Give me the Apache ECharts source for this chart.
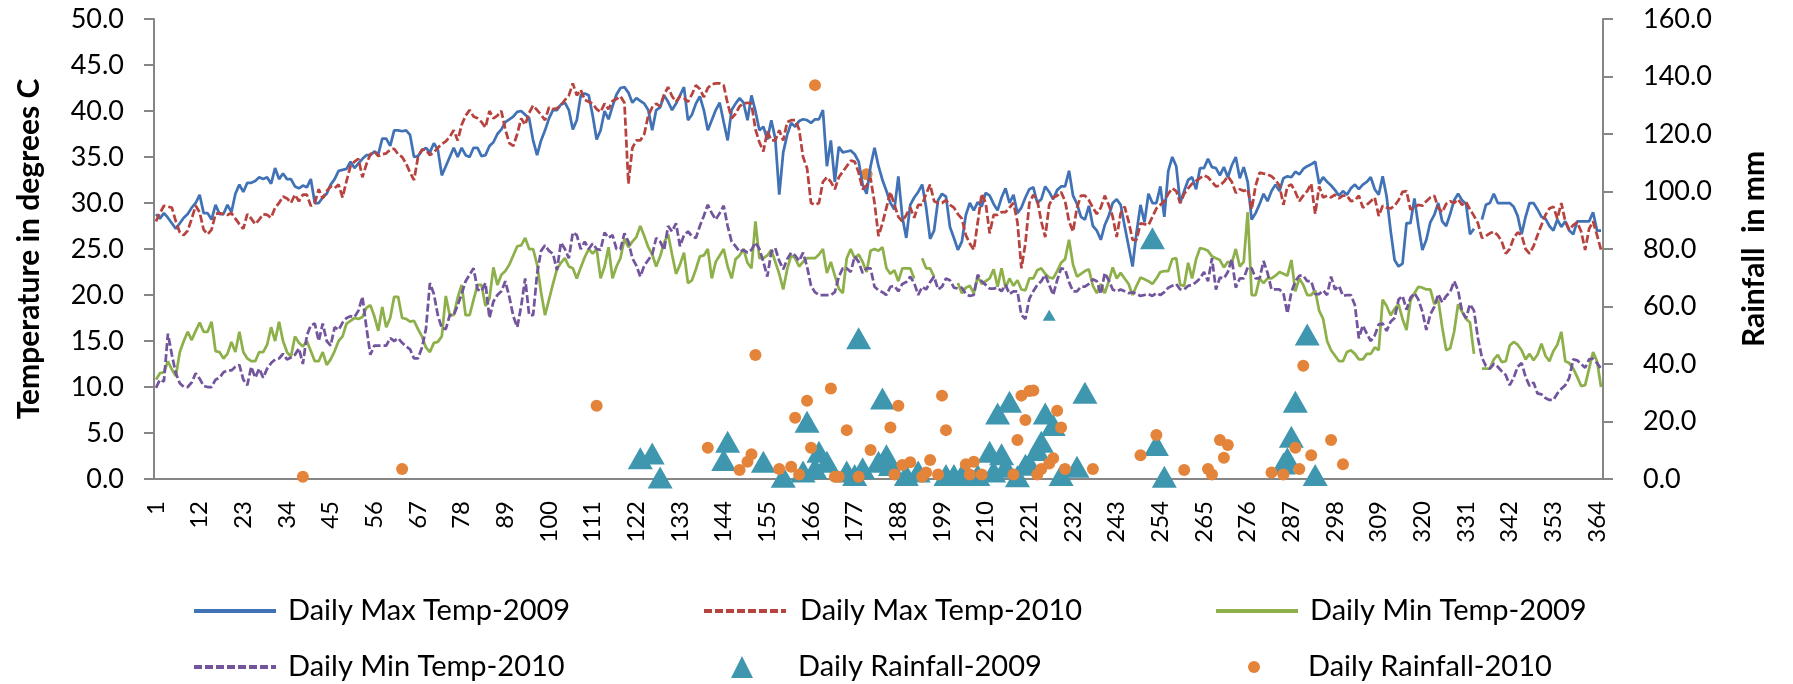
<!DOCTYPE html>
<html>
<head>
<meta charset="utf-8">
<title>Daily temperature and rainfall 2009-2010</title>
<script src="https://cdn.jsdelivr.net/npm/echarts@6/dist/echarts.min.js"></script>
<style>
  html, body { margin: 0; padding: 0; background: #fff; }
  #chart { width: 1793px; height: 684px; }
</style>
</head>
<body>
<div id="chart"></div>
<script>
// day numbers 1..365 (category axis)
const dayLabels = Array.from({ length: 365 }, (_, i) => String(i + 1))

// daily max temperature 2009 (deg C)
const maxTemp2009 = [
  28.8, 28.3, 28.9, 28.4, 27.8, 27.2, 27.8, 28.4, 28.8, 29.5,
  30.0, 30.9, 28.9, 28.9, 28.2, 29.8, 28.8, 28.8, 29.8, 29.0,
  31.0, 32.0, 31.2, 32.2, 32.2, 32.4, 32.8, 32.6, 32.8, 32.1,
  33.8, 32.6, 33.2, 32.6, 32.6, 31.8, 31.6, 31.9, 31.7, 32.6,
  30.0, 30.0, 30.6, 31.0, 32.0, 32.6, 33.5, 33.6, 33.7, 34.5,
  33.8, 34.3, 34.8, 35.2, 35.2, 35.6, 35.3, 37.0, 37.0, 36.2,
  37.9, 37.9, 37.8, 37.9, 37.4, 35.0, 35.1, 35.7, 36.0, 35.5,
  36.5, 35.8, 33.0, 34.0, 35.0, 36.0, 35.0, 36.0, 35.2, 35.0,
  36.0, 36.0, 35.1, 35.2, 36.2, 36.6, 37.5, 38.0, 38.8, 39.1,
  39.4, 39.9, 40.0, 39.6, 39.2, 36.8, 35.2, 36.8, 37.9, 39.2,
  40.1, 40.1, 40.7, 40.9, 40.1, 38.0, 39.0, 41.7, 41.9, 41.7,
  39.5, 36.9, 37.9, 40.0, 39.1, 40.5, 41.8, 42.5, 42.6, 42.0,
  40.9, 41.4, 41.1, 40.8, 40.1, 37.9, 40.1, 40.4, 41.7, 41.0,
  40.1, 40.8, 41.7, 42.6, 39.0, 39.6, 40.8, 41.6, 40.1, 37.9,
  39.0, 40.1, 40.9, 38.8, 36.8, 40.1, 40.8, 41.4, 40.9, 39.0,
  41.7, 40.0, 37.9, 38.3, 36.9, 39.0, 37.0, 30.9, 35.5, 37.4,
  38.7, 38.3, 38.9, 39.1, 39.0, 38.7, 39.1, 39.1, 40.1, 34.0,
  36.8, 32.3, 36.1, 35.5, 35.6, 35.7, 35.3, 34.5, 32.0, 31.0,
  34.0, 36.0, 34.0, 32.5, 31.3, 30.0, 29.3, 32.9, 28.5, 26.2,
  29.8, 30.6, 31.2, 32.0, 29.5, 26.1, 27.0, 30.3, 31.0, 30.7,
  27.4, 26.2, 24.9, 25.8, 28.7, 30.0, 29.2, 30.1, 29.6, 31.1,
  30.8, 29.9, 29.2, 30.6, 31.6, 30.0, 30.9, 28.9, 29.5, 30.6,
  31.5, 31.7, 30.0, 30.4, 31.8, 31.2, 30.4, 31.4, 31.8, 31.8,
  33.5, 30.8, 29.9, 28.5, 28.2, 29.7, 27.5, 27.0, 26.0, 27.6,
  28.6, 30.0, 30.4, 29.8, 27.5, 25.3, 23.1, 26.8, 29.8, 27.9,
  31.0, 30.0, 30.0, 31.8, 28.5, 33.5, 35.0, 34.0, 30.0, 31.3,
  32.5, 32.8, 31.5, 33.8, 33.8, 34.8, 33.9, 33.8, 33.0, 33.9,
  32.8, 34.1, 35.0, 32.7, 33.9, 32.3, 28.2, 28.9, 29.9, 31.0,
  30.2, 31.3, 32.0, 31.3, 32.7, 32.9, 32.8, 33.4, 33.1, 33.7,
  34.0, 34.2, 34.5, 32.1, 32.8, 32.3, 31.9, 31.4, 30.8, 31.3,
  30.9, 31.6, 32.0, 31.5, 32.0, 32.3, 32.8, 31.5, 30.9, 32.9,
  30.7, 27.0, 23.8, 23.1, 23.4, 27.8, 27.8, 30.5, 27.5, 24.9,
  26.0, 27.9, 28.7, 30.0, 28.0, 27.5, 28.8, 30.3, 31.0, 30.3,
  29.9, 26.6, 27.2, null, 28.2, 29.8, 30.0, 31.0, 30.0, 30.0,
  30.0, 30.0, 29.6, 28.6, 26.6, 28.5, 30.0, 30.0, 29.3, 28.5,
  28.3, 27.5, 27.0, 28.2, 27.4, 28.0, 27.0, 26.6, 28.0, 28.0,
  28.0, 28.0, 29.0, 27.0, 27.0
]

// daily max temperature 2010 (deg C)
const maxTemp2010 = [
  28.0, 28.9, 29.7, 29.6, 29.5, 28.0, 26.8, 26.5, 27.0, 28.3,
  29.7, 29.0, 27.1, 26.6, 27.1, 28.8, 28.9, 28.8, 28.7, 28.9,
  28.3, 27.7, 27.2, 28.8, 28.3, 27.7, 28.2, 28.8, 28.7, 28.4,
  29.5, 30.0, 30.7, 30.5, 30.0, 30.9, 30.2, 30.9, 30.9, 29.7,
  30.0, 31.5, 30.5, 31.3, 31.8, 31.6, 32.0, 30.6, 32.4, 34.0,
  34.5, 34.8, 32.8, 34.2, 35.3, 35.6, 35.1, 35.3, 35.4, 35.8,
  35.9, 35.3, 35.0, 34.3, 33.3, 32.5, 35.0, 35.8, 35.8, 35.2,
  35.5, 36.0, 36.4, 36.7, 37.2, 37.9, 36.8, 38.5, 39.5, 40.1,
  39.4, 39.2, 38.8, 38.2, 40.0, 39.2, 39.5, 40.0, 38.0, 36.5,
  36.2, 37.5, 39.2, 38.5, 39.8, 40.6, 40.1, 39.6, 39.0, 40.4,
  40.2, 40.3, 40.6, 41.2, 41.7, 43.0, 41.7, 42.3, 41.2, 41.0,
  40.8, 40.2, 39.9, 40.8, 40.2, 41.1, 41.3, 41.6, 40.9, 32.1,
  36.0, 36.8, 36.8, 37.5, 39.5, 40.4, 40.8, 40.5, 41.8, 42.6,
  41.6, 41.0, 41.6, 41.4, 41.0, 41.8, 42.8, 42.4, 41.5, 42.5,
  42.9, 43.0, 43.0, 42.8, 40.8, 39.2, 39.7, 40.5, 40.8, 40.9,
  40.8, 38.0, 36.6, 35.6, 37.8, 36.8, 36.8, 37.9, 36.8, 38.8,
  39.0, 39.0, 38.0, 35.0, 33.8, 30.0, 29.8, 30.0, 32.3, 32.8,
  32.3, 31.5, 32.8, 33.4, 34.0, 34.6, 34.5, 33.3, 31.5, 31.9,
  32.7, 30.0, 26.4, 27.8, 29.5, 31.2, 29.8, 28.5, 28.0, 28.7,
  29.5, 28.4, 29.8, 29.8, 31.0, 32.0, 30.2, 30.0, 30.0, 30.3,
  29.8, 29.5, 28.8, 28.3, 26.5, 25.6, 24.9, 27.9, 31.0, 30.0,
  26.7, 28.7, 28.7, 29.0, 29.0, 29.5, 30.0, 27.9, 22.9, 25.6,
  30.0, 30.9, 30.3, 28.0, 26.3, 29.8, 30.6, 30.8, 31.2, 30.2,
  28.0, 26.9, 29.5, 30.8, 30.8, 30.3, 29.5, 28.8, 29.5, 30.8,
  29.8, 28.5, 26.3, 28.9, 29.6, 28.0, 26.0, 26.0, 27.8, 27.7,
  27.6, 28.5, 29.4, 29.8, 30.2, 31.0, 31.6, 31.3, 30.0, 31.0,
  31.6, 32.1, 32.4, 32.7, 33.0, 32.8, 32.3, 31.8, 31.9, 32.3,
  32.9, 32.3, 31.1, 31.5, 31.3, 31.5, 29.3, 31.9, 33.3, 33.2,
  33.1, 32.9, 32.5, 31.9, 29.8, 31.8, 32.0, 31.2, 30.2, 30.8,
  31.3, 32.1, 28.8, 31.8, 30.6, 30.8, 30.6, 30.9, 30.5, 30.8,
  30.8, 30.2, 30.3, 30.8, 29.5, 29.8, 30.2, 30.6, 28.6, 29.7,
  29.5, 29.4, 29.7, 30.3, 31.2, 31.3, 29.3, 29.5, 29.8, 29.7,
  30.2, 30.6, 30.8, 29.5, 29.0, 29.9, 30.2, 30.0, 30.4, 29.8,
  30.1, 29.3, 28.6, 27.8, 26.2, 26.4, 26.7, 26.9, 26.5, 25.8,
  24.5, 25.0, 26.2, 26.8, 26.5, 25.0, 24.5, 25.3, 26.5, 27.6,
  28.7, 29.4, 29.6, 28.3, 30.0, 28.0, 27.1, 27.6, 27.9, 26.9,
  24.9, 27.2, 28.0, 26.5, 24.9
]

// daily min temperature 2009 (deg C), null = no reading
const minTemp2009 = [
  10.8, 11.5, 11.6, 12.8, 11.9, 11.2, 13.8, 15.0, 16.0, 15.1,
  16.1, 17.0, 16.0, 16.0, 17.1, 13.9, 13.8, 13.1, 13.6, 14.9,
  13.8, 16.0, 13.8, 13.1, 12.8, 12.8, 13.8, 13.8, 14.6, 16.5,
  15.0, 17.1, 15.0, 13.8, 13.3, 15.5, 14.8, 14.4, 15.0, 13.9,
  12.8, 12.8, 13.8, 12.4, 13.0, 13.9, 15.0, 15.5, 16.9, 17.2,
  17.5, 17.4, 17.6, 18.6, 18.9, 17.7, 16.1, 18.7, 16.5, 17.5,
  19.8, 19.8, 17.5, 17.4, 17.1, 17.2, 16.3, 15.5, 14.3, 13.8,
  14.8, 14.9, 15.5, 19.9, 17.8, 17.8, 19.7, 21.1, 17.8, 17.8,
  19.5, 21.1, 21.1, 18.8, 19.6, 23.0, 21.1, 22.2, 22.6, 23.3,
  24.3, 25.3, 25.4, 26.2, 25.0, 25.0, 23.3, 20.3, 17.8, 19.5,
  21.2, 22.8, 23.5, 24.0, 23.1, 22.9, 21.8, 23.0, 24.1, 25.0,
  24.5, 25.0, 21.8, 23.1, 25.2, 21.8, 23.1, 24.0, 26.1, 25.2,
  25.8, 26.3, 27.5, 26.4, 25.2, 24.4, 23.1, 24.2, 25.7, 26.6,
  24.4, 22.3, 23.3, 24.6, 21.3, 21.6, 22.8, 24.2, 24.3, 25.0,
  21.8, 23.6, 24.3, 25.0, 23.1, 21.8, 23.9, 24.3, 25.0, 23.5,
  22.9, 28.0, 24.0, 24.0, 24.3, 24.9, 23.6, 22.3, 20.6, 22.8,
  24.3, 24.0, 23.1, 23.6, 24.0, 24.0, 24.0, 24.4, 25.0, 22.4,
  23.6, 22.1, 20.7, 20.2, 24.0, 25.0, 24.0, 24.4, 23.6, 22.5,
  24.8, 25.0, 24.8, 25.2, 22.9, 22.3, 22.7, 21.5, 22.9, 22.9,
  22.9, 21.8, null, 24.0, 22.9, 22.9, 22.0, null, null, null,
  null, null, 21.3, 20.2, 20.8, 21.0, 20.2, 22.0, 21.2, 21.5,
  21.8, 22.8, 20.9, 22.9, 20.8, 21.8, 21.0, 21.6, 20.6, 20.5,
  21.8, 21.8, 22.7, 22.9, 22.3, 21.9, 21.8, 22.6, 23.5, 23.9,
  26.0, 23.3, 22.0, 22.3, 22.6, 22.8, 21.0, 20.2, 21.2, 20.2,
  21.5, 23.0, 21.8, 22.4, 21.8, 21.2, 20.0, 21.0, 21.9, 21.7,
  21.5, 21.2, 21.8, 22.5, 22.6, 22.6, 23.9, 24.0, 21.1, 21.0,
  23.5, 21.8, 23.9, 25.1, 25.0, 24.8, 24.2, 24.0, 23.8, 23.0,
  23.6, 23.5, 25.0, 23.1, 23.6, 29.0, 20.0, 20.0, 21.8, 21.3,
  21.8, 21.8, 22.1, 22.5, 22.3, 22.1, 23.8, 20.4, 21.8, 21.1,
  20.0, 20.0, 20.5, 18.3, 17.4, 15.0, 14.0, 13.4, 12.8, 12.8,
  13.8, 14.0, 13.6, 13.0, 13.0, 13.6, 13.6, 14.3, 14.0, 19.5,
  18.8, 17.8, 18.5, 19.0, 17.4, 16.2, 19.4, 20.2, 20.9, 20.8,
  20.6, 20.6, 19.0, 19.5, 16.5, 14.0, 14.2, 16.0, 19.0, 18.2,
  17.4, 17.0, 13.6, null, 12.0, 12.0, 12.0, 13.0, 13.5, 12.7,
  12.8, 14.5, 14.9, 14.6, 14.0, 13.0, 13.6, 12.9, 13.5, 14.7,
  13.4, 12.8, 13.9, 14.6, 16.0, 12.8, 12.6, 12.0, 11.1, 10.1,
  10.2, 12.0, 13.8, 12.8, 10.0
]

// daily min temperature 2010 (deg C)
const minTemp2010 = [
   9.9, 10.8, 10.6, 15.8, 13.5, 11.5, 10.4, 10.0, 10.0, 10.5,
  11.5, 10.9, 10.1, 10.0, 10.0, 10.8, 11.0, 11.6, 11.8, 11.8,
  12.2, 12.4, 10.8, 10.2, 12.2, 11.0, 12.0, 11.0, 12.0, 12.6,
  13.0, 13.1, 13.6, 13.0, 13.2, 13.5, 14.2, 12.5, 15.6, 16.7,
  16.9, 15.0, 16.9, 15.0, 14.5, 16.5, 16.2, 17.0, 17.5, 17.7,
  17.6, 18.3, 19.8, 16.5, 13.5, 14.5, 14.5, 14.5, 14.5, 15.3,
  15.0, 15.3, 14.8, 14.4, 14.1, 13.1, 13.1, 14.3, 16.3, 21.3,
  20.1, 17.8, 16.4, 16.3, 17.8, 17.8, 18.9, 20.1, 21.5, 22.2,
  22.9, 20.6, 20.4, 21.3, 17.5, 19.3, 20.0, 20.4, 21.5, 19.8,
  17.7, 16.5, 18.8, 21.8, 17.8, 17.8, 22.3, 24.8, 25.4, 24.8,
  24.5, 22.7, 25.7, 25.0, 24.0, 26.8, 26.5, 25.0, 25.8, 25.0,
  25.6, 25.0, 24.9, 26.8, 26.2, 26.5, 25.0, 25.0, 26.7, 25.8,
  24.0, 23.2, 22.0, 23.2, 23.8, 24.4, 26.2, 25.8, 24.9, 27.5,
  26.9, 27.8, 25.3, 26.5, 26.9, 26.4, 26.2, 27.5, 28.6, 29.8,
  28.9, 28.2, 28.9, 29.7, 27.5, 25.8, 25.3, 24.7, 24.9, 24.6,
  24.9, 25.7, 25.0, 23.6, 22.0, 24.7, 25.1, 23.7, 22.8, 23.9,
  24.6, 24.3, 23.7, 24.6, 23.1, 21.0, 20.3, 20.0, 20.0, 20.0,
  20.0, 20.3, 22.0, 22.9, 22.9, 22.5, 24.2, 23.6, 22.4, 22.9,
  22.9, 20.9, 20.5, 20.3, 20.0, 20.9, 21.0, 20.4, 21.2, 21.4,
  22.0, 21.3, 20.0, 20.9, 20.6, 21.4, 22.0, 20.6, 20.9, 21.8,
  21.6, 20.8, 20.7, 20.8, 20.1, 19.9, 20.0, 22.2, 21.5, 21.1,
  20.7, 20.7, 20.8, 20.4, 21.1, 20.1, 20.4, 20.4, 17.8, 17.4,
  19.6, 20.4, 21.1, 21.5, 22.2, 21.1, 20.0, 21.6, 22.9, 22.8,
  21.4, 20.4, 20.4, 20.9, 20.9, 21.2, 21.7, 21.5, 20.1, 22.4,
  21.6, 20.6, 20.4, 20.6, 20.4, 20.2, 20.3, 20.1, 19.9, 20.0,
  20.1, 19.9, 20.2, 20.0, 20.3, 20.8, 21.0, 21.2, 20.6, 20.6,
  21.0, 21.1, 21.4, 21.8, 22.5, 21.5, 24.0, 20.6, 21.9, 21.8,
  22.5, 23.9, 20.8, 21.8, 21.8, 23.0, 22.9, 21.8, 21.8, 23.7,
  22.4, 20.6, 20.6, 20.6, 20.2, 18.0, 20.3, 21.5, 22.1, 22.1,
  21.5, 21.5, 20.1, 20.1, 20.5, 20.0, 22.0, 20.6, 21.0, 19.9,
  20.0, 20.0, 18.9, 15.3, 16.7, 15.8, 15.0, 15.6, 16.8, 16.9,
  16.1, 17.1, 17.5, 19.5, 19.9, 18.4, 19.7, 20.2, 19.5, 18.2,
  16.2, 17.9, 18.7, 20.1, 19.2, 19.9, 20.3, 21.5, 20.5, 18.2,
  17.5, 19.0, 18.3, 15.3, 13.2, 12.3, 12.0, 12.5, 12.2, 11.7,
  11.3, 10.2, 11.0, 12.2, 12.6, 11.1, 10.1, 10.5,  9.3,  9.2,
   8.8,  8.6,  8.6,  9.3,  9.8, 10.2, 11.0, 13.0, 12.9, 12.5,
  12.1, 13.0, 13.1, 12.6, 12.0
]

// daily rainfall (mm), only the days that had rain
const rain2009Days = [123, 126, 128, 144, 145, 154, 159, 164, 165, 167,
  168, 170, 175, 177, 178, 179, 183, 184, 185, 186,
  190, 193, 200, 202, 204, 208, 211, 212, 213, 214,
  215, 216, 218, 220, 221, 223, 224, 225, 226, 227,
  229, 233, 235, 252, 253, 255, 285, 286, 287, 288,
  291, 293]
const rain2009 = [7.2, 8.9, 0.5, 6.6, 13.0, 6.0, 0.8, 2.6, 19.9, 3.7,
  9.5, 6.0, 2.6, 1.4, 49.0, 3.7, 6.0, 28.0, 8.3, 4.9,
  1.4, 2.6, 1.4, 1.4, 1.4, 1.4, 9.5, 2.6, 22.8, 8.6,
  4.3, 26.9, 1.0, 5.0, 5.4, 10.1, 13.0, 22.8, 57.0, 18.8,
  1.4, 4.3, 30.0, 83.7, 11.8, 0.8, 5.4, 7.2, 14.7, 26.9,
  50.3, 1.4]

const rain2010Days = [38, 63, 112, 140, 148, 150, 151, 152, 158, 161,
  162, 163, 165, 166, 167, 171, 172, 173, 175, 178,
  180, 181, 186, 187, 188, 189, 191, 194, 195, 196,
  198, 199, 200, 205, 206, 207, 209, 217, 218, 219,
  220, 221, 222, 223, 224, 226, 227, 228, 229, 230,
  237, 249, 253, 260, 266, 267, 269, 270, 271, 282,
  285, 288, 289, 290, 292, 297, 300]
const rain2010 = [0.8, 3.5, 25.5, 10.9, 3.1, 6.0, 8.6, 43.1, 3.5, 4.3,
  21.3, 1.6, 27.2, 10.9, 137.0, 31.5, 0.8, 0.8, 17.0, 0.8,
  106.0, 10.1, 17.9, 1.6, 25.5, 4.9, 5.8, 0.8, 2.3, 6.6,
  1.6, 29.0, 17.0, 5.1, 1.6, 6.0, 1.6, 1.6, 13.6, 29.0,
  20.5, 30.6, 30.8, 1.6, 3.5, 5.4, 7.2, 23.7, 17.9, 3.5,
  3.5, 8.3, 15.3, 3.1, 3.5, 1.6, 13.6, 7.4, 11.8, 2.3,
  1.6, 10.9, 3.5, 39.4, 8.3, 13.6, 5.1]

const FONT = 'Lato'
const AXIS_GREY = '#868686'

function tempLine (name, data, color, dashed) {
  return {
    name: name,
    type: 'line',
    data: data,
    yAxisIndex: 0,
    symbol: 'none',
    showSymbol: false,
    connectNulls: false,
    lineStyle: { color: color, width: 2.75, type: dashed ? [8, 3] : 'solid' },
    itemStyle: { color: color }
  }
}

function legendItem (name, left, top, w, h, icon, textPad) {
  const l = {
    data: [name],
    left: left,
    top: top,
    padding: 0,
    itemWidth: w,
    itemHeight: h,
    selectedMode: false,
    textStyle: {
      fontFamily: FONT,
      fontSize: 29,
      color: '#000',
      lineHeight: 32,
      padding: [0, 0, 0, textPad]
    }
  }
  if (icon) {
    l.icon = icon
  } else {
    // line-only key: hide the marker drawn in the middle of the line
    l.itemStyle = { opacity: 0 }
    l.lineStyle = { width: 4 }
  }
  return l
}

const chart = echarts.init(document.getElementById('chart'), null, { renderer: 'canvas' })

const option = {
  animation: false,
  backgroundColor: '#fff',
  grid: { left: 154, right: 190, top: 19, bottom: 205 },
  legend: [
    legendItem('Daily Max Temp-2009', 192, 595, 82, 14, null, 7),
    legendItem('Daily Max Temp-2010', 702, 595, 82, 14, null, 9),
    legendItem('Daily Min Temp-2009', 1214, 595, 82, 14, null, 7),
    legendItem('Daily Min Temp-2010', 192, 651, 82, 14, null, 7),
    legendItem('Daily Rainfall-2009', 731, 651, 22, 22, 'triangle', 40),
    legendItem('Daily Rainfall-2010', 1248, 651, 12, 12, 'circle', 43)
  ],
  xAxis: {
    type: 'category',
    data: dayLabels,
    boundaryGap: true,
    axisLine: { lineStyle: { color: AXIS_GREY, width: 2 } },
    axisTick: { interval: 0, length: 8, lineStyle: { color: AXIS_GREY, width: 1.5 } },
    axisLabel: {
      interval: 10,
      rotate: 90,
      margin: 22,
      color: '#000',
      fontFamily: FONT,
      fontSize: 24
    },
    splitLine: { show: false }
  },
  yAxis: [
    {
      type: 'value',
      min: 0,
      max: 50,
      interval: 5,
      name: 'Temperature in degrees C',
      nameLocation: 'middle',
      nameRotate: 90,
      nameGap: 110,
      nameTextStyle: { fontFamily: FONT, fontSize: 30, fontWeight: 'bold', color: '#000' },
      axisLine: { show: true, lineStyle: { color: AXIS_GREY, width: 2 } },
      axisTick: { show: true, length: 10, lineStyle: { color: AXIS_GREY, width: 2 } },
      axisLabel: {
        margin: 30,
        color: '#000',
        fontFamily: FONT,
        fontSize: 27,
        formatter: v => v.toFixed(1)
      },
      splitLine: { show: false }
    },
    {
      type: 'value',
      position: 'right',
      min: 0,
      max: 160,
      interval: 20,
      name: 'Rainfall  in mm',
      nameLocation: 'middle',
      nameRotate: 90,
      nameGap: 136,
      nameTextStyle: { fontFamily: FONT, fontSize: 30, fontWeight: 'bold', color: '#000' },
      axisLine: { show: true, lineStyle: { color: AXIS_GREY, width: 2 } },
      axisTick: { show: true, length: 10, lineStyle: { color: AXIS_GREY, width: 2 } },
      axisLabel: {
        margin: 40,
        color: '#000',
        fontFamily: FONT,
        fontSize: 27,
        formatter: v => v.toFixed(1)
      },
      splitLine: { show: false }
    }
  ],
  series: [
    tempLine('Daily Max Temp-2009', maxTemp2009, '#4172B6', false),
    tempLine('Daily Max Temp-2010', maxTemp2010, '#B7433F', true),
    tempLine('Daily Min Temp-2009', minTemp2009, '#8DB04A', false),
    tempLine('Daily Min Temp-2010', minTemp2010, '#72559C', true),
    {
      name: 'Daily Rainfall-2009',
      type: 'scatter',
      yAxisIndex: 1,
      symbol: 'triangle',
      // one reading in the source is drawn with a smaller marker
      symbolSize: v => (v[1] > 55 && v[1] < 60 ? [13, 11] : [25, 22]),
      itemStyle: { color: '#3F97AF', opacity: 1 },
      data: rain2009Days.map((d, i) => [d - 1, rain2009[i]])
    },
    {
      name: 'Daily Rainfall-2010',
      type: 'scatter',
      yAxisIndex: 1,
      symbol: 'circle',
      symbolSize: 12,
      itemStyle: { color: '#E3843A', opacity: 1 },
      data: rain2010Days.map((d, i) => [d - 1, rain2010[i]])
    }
  ]
}

chart.setOption(option)
</script>
</body>
</html>
